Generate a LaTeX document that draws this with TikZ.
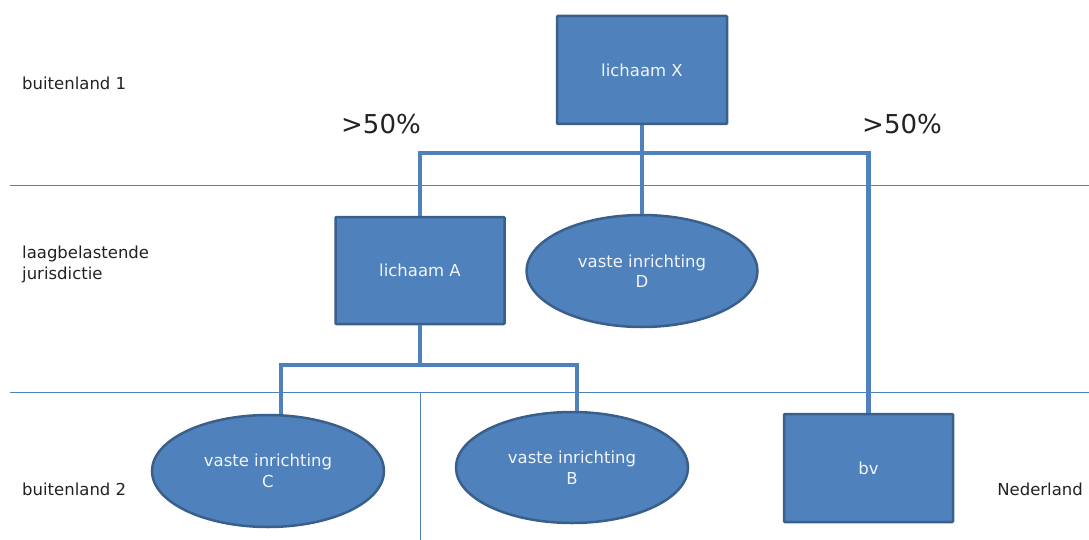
\documentclass[tikz,border=0pt]{standalone}
\usepackage{fontspec}
\setmainfont{DejaVu Sans}
\usetikzlibrary{shapes.geometric}
\definecolor{boxfill}{HTML}{4F81BD}
\definecolor{boxedge}{HTML}{3A5F8B}
\definecolor{txt}{HTML}{222222}
\definecolor{nodetxt}{HTML}{F2F5FA}
\tikzset{
  entity/.style={draw=boxedge, fill=boxfill, line width=2.5pt, text=nodetxt,
    font=\fontsize{16.5}{20.5}\selectfont, align=center, inner sep=0pt},
  boxnode/.style={entity, rectangle, rounded corners=1pt},
  ovalnode/.style={entity, ellipse},
  link/.style={draw=boxfill, line width=4.5pt},
  zoneline/.style={draw=boxfill, line width=1pt},
  lbl/.style={text=txt, anchor=base west, inner sep=0pt, font=\fontsize{16.5}{21}\selectfont, align=left},
  pct/.style={text=txt, anchor=base west, inner sep=0pt, font=\fontsize{26}{30}\selectfont}
}
\begin{document}
\begin{tikzpicture}[x=1pt,y=-1pt]
\useasboundingbox (0,0) rectangle (1089,540);
% zone lines
\draw[zoneline] (10,186) -- (1089,186);
\draw[zoneline] (10,392) -- (1089,392);
\draw[zoneline] (420,392) -- (420,540);

% nodes
\node[boxnode, minimum width=170, minimum height=108] (X) at (642,70) {lichaam X};
\node[boxnode, minimum width=169, minimum height=107] (A) at (420,270.5) {lichaam A};
\node[ovalnode, minimum width=231, minimum height=112] (D) at (642,271) {vaste inrichting\\D};
\node[ovalnode, minimum width=232, minimum height=112] (C) at (268,471) {vaste inrichting\\C};
\node[ovalnode, minimum width=232, minimum height=111] (B) at (572,467.5) {vaste inrichting\\B};
\node[boxnode, minimum width=169, minimum height=108] (bv) at (868.5,468) {bv};

% connector coordinates
\coordinate (hx) at (642,153);
\coordinate (ha) at (420,365);
\coordinate (cl) at (281,365);
\coordinate (cr) at (577,365);

% connectors
\draw[link] (X.south) -- (D.north);
\draw[link] (A.north) |- (hx) -| (bv.north);
\draw[link] (A.south) -- (ha);
\draw[link] (cl |- C.north) -- (cl) -- (cr) -- (cr |- B.north);

% labels
\node[lbl] (l1) at (22,90) {buitenland 1};
\node[lbl] (l2) at (22,279) {laagbelastende\\jurisdictie};
\node[lbl] (l3) at (22,495) {buitenland 2};
\node[lbl, anchor=base east] (l4) at (1083,495) {Nederland};
\node[pct] (p1) at (341,134) {>50\%};
\node[pct] (p2) at (862,134) {>50\%};
\end{tikzpicture}
\end{document}
